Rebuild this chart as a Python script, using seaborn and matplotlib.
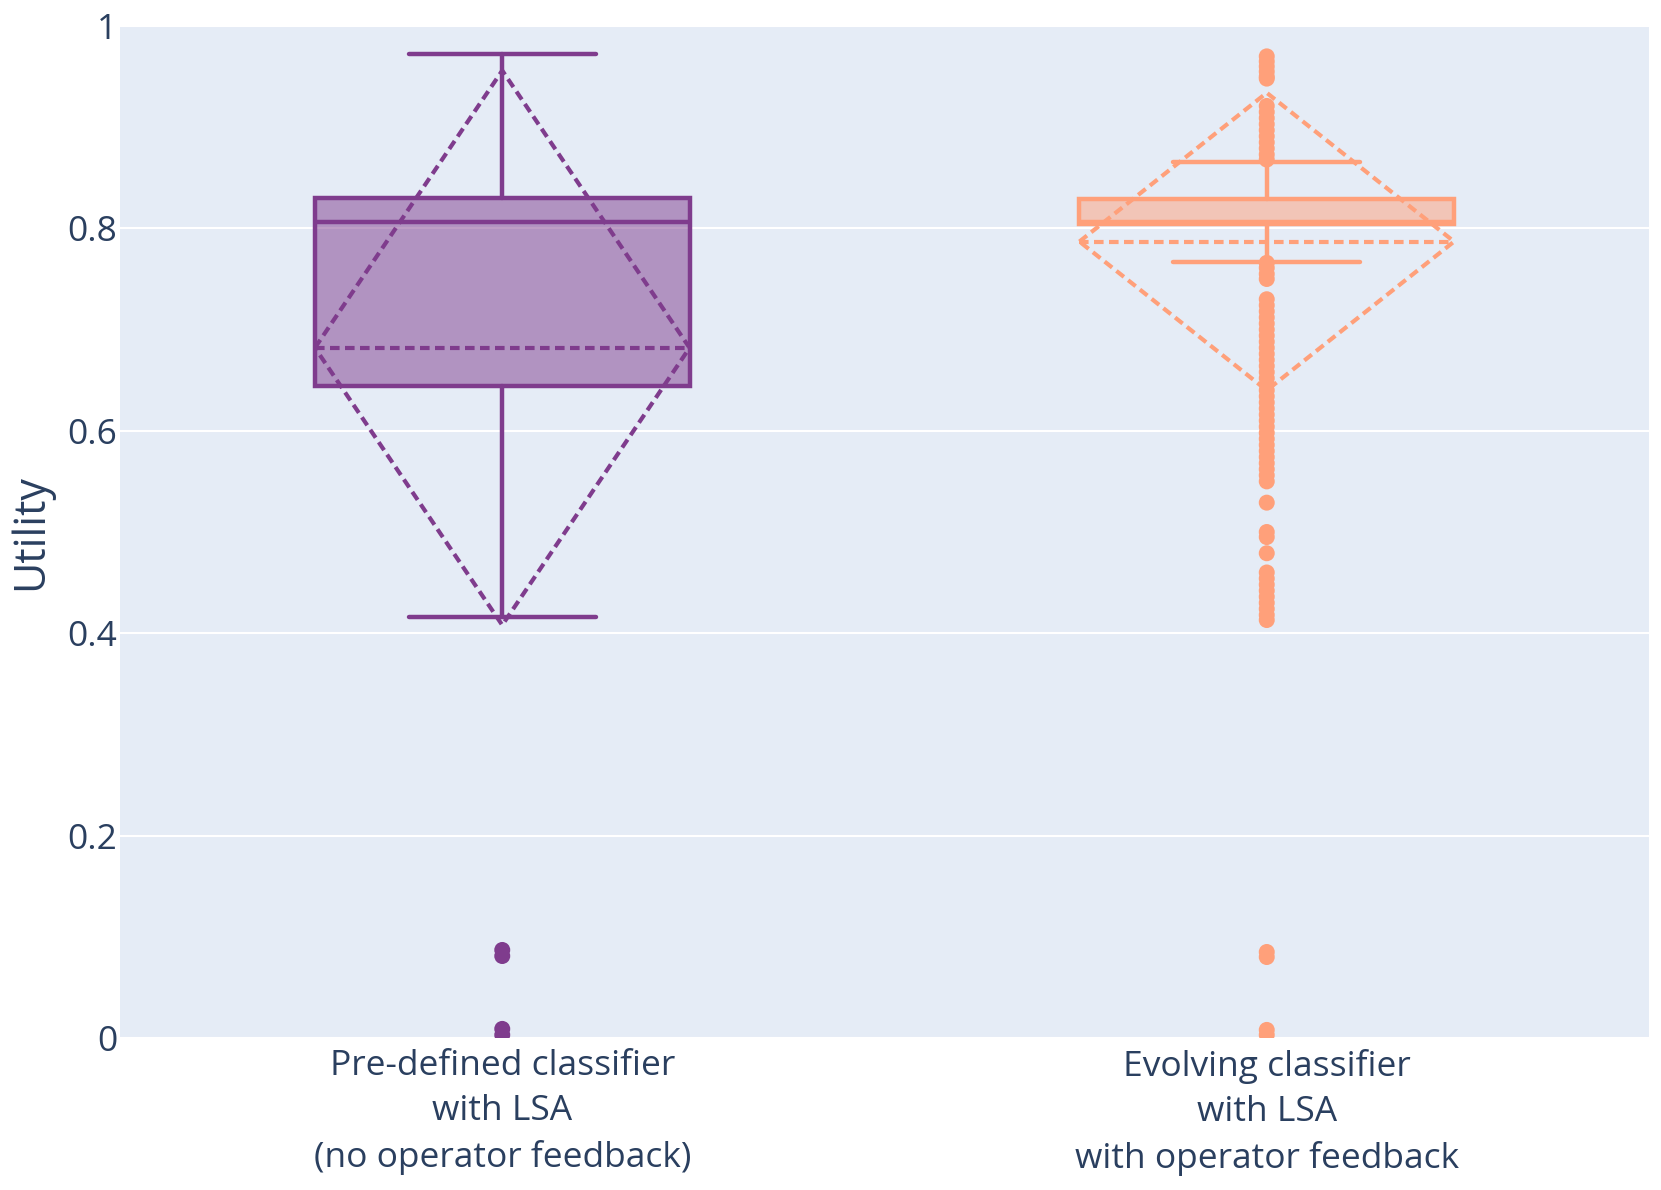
import matplotlib
matplotlib.use("Agg")
import matplotlib.pyplot as plt
import seaborn as sns
import pandas as pd

# Groups and colours
categories = ["Pre-defined classifier\nwith LSA\n(no operator feedback)",
              "Evolving classifier\nwith LSA\nwith operator feedback"]
colors = ["#7F3C8D", "#FFA07A"]

# Box statistics
lower_whisker = [0.416, 0.767]
q1 = [0.644, 0.804]
median = [0.806, 0.806]
q3 = [0.830, 0.829]
upper_whisker = [0.972, 0.866]
mean = [0.682, 0.787]
sd = [0.274, 0.147]

# Outlier points
outliers_predef = [0.087, 0.081, 0.009, 0.003]
outliers_evolving = [
    0.970, 0.965, 0.960, 0.955, 0.950, 0.948,
    0.921, 0.915, 0.909, 0.903, 0.897, 0.891, 0.885, 0.879, 0.873, 0.868,
    0.766, 0.761, 0.755, 0.750,
    0.730, 0.724, 0.718, 0.712, 0.706, 0.700, 0.694, 0.688, 0.682, 0.676,
    0.670, 0.664, 0.658, 0.652, 0.646, 0.640, 0.634, 0.628, 0.622, 0.616,
    0.610, 0.604, 0.598, 0.592, 0.586, 0.580, 0.574, 0.568, 0.562, 0.556, 0.550,
    0.529, 0.500, 0.495, 0.479,
    0.460, 0.454, 0.448, 0.442, 0.436, 0.430, 0.424, 0.418, 0.413,
    0.085, 0.080, 0.008, 0.003,
]

y_ticks = [0, 0.2, 0.4, 0.6, 0.8, 1]
y_tick_labels = ["0", "0.2", "0.4", "0.6", "0.8", "1"]

text_color = "#2a3f5f"
sns.set_theme(style="darkgrid", rc={
    "axes.facecolor": "#E5ECF6",
    "grid.color": "white",
    "grid.linewidth": 1.5,
})
plt.rcParams["font.family"] = ["Open Sans", "DejaVu Sans"]

fig = plt.figure(figsize=(16.61, 11.90), dpi=100)
ax = fig.add_axes([120 / 1661, 152 / 1190, 1529 / 1661, 1012 / 1190])

pts = pd.DataFrame({
    "group": [categories[0]] * len(outliers_predef) + [categories[1]] * len(outliers_evolving),
    "value": outliers_predef + outliers_evolving,
})

sns.stripplot(data=pts, x="group", y="value", hue="group", order=categories,
              hue_order=categories, palette=colors, jitter=False, size=11.5,
              linewidth=0, legend=False, ax=ax, zorder=5, clip_on=True)

box_w = 0.49
for i, c in enumerate(colors):
    stats = [{
        "whislo": lower_whisker[i], "q1": q1[i], "med": median[i],
        "q3": q3[i], "whishi": upper_whisker[i], "fliers": [],
    }]
    lw = 3.2
    bp = ax.bxp(stats, positions=[i], widths=box_w, patch_artist=True,
                showfliers=False, manage_ticks=False,
                boxprops=dict(facecolor=c + "80", edgecolor=c, linewidth=lw),
                medianprops=dict(color=c, linewidth=lw),
                whiskerprops=dict(color=c, linewidth=lw),
                capprops=dict(color=c, linewidth=lw))
    for art in bp["boxes"] + bp["medians"] + bp["whiskers"] + bp["caps"]:
        art.set_zorder(3)

    # mean line and sd diamond
    m, s = mean[i], sd[i]
    ax.plot([i - box_w / 2, i + box_w / 2], [m, m], color=c, lw=3,
            linestyle=(0, (2.3, 1.3)), zorder=4)
    ax.plot([i - box_w / 2, i, i + box_w / 2, i, i - box_w / 2],
            [m, m + s, m, m - s, m], color=c, lw=3,
            linestyle=(0, (2.3, 1.3)), zorder=4)

ax.set_xlim(-0.5, 1.5)
ax.set_ylim(0, 1)
ax.set_yticks(y_ticks)
ax.set_yticklabels(y_tick_labels)
ax.set_xticks([0, 1])
ax.set_xticklabels(categories, linespacing=1.43)
ax.grid(axis="x", visible=False)
ax.set_xlabel("")
ax.set_ylabel("Utility", fontsize=31, color=text_color)
ax.yaxis.set_label_coords(-0.044, 0.5)
ax.tick_params(axis="y", labelsize=25.5, labelcolor=text_color, pad=2, length=0)
ax.tick_params(axis="x", labelsize=25.5, labelcolor=text_color, pad=8, length=0)
for sp in ax.spines.values():
    sp.set_visible(False)

fig.savefig("out.png", dpi=100, facecolor="white")
